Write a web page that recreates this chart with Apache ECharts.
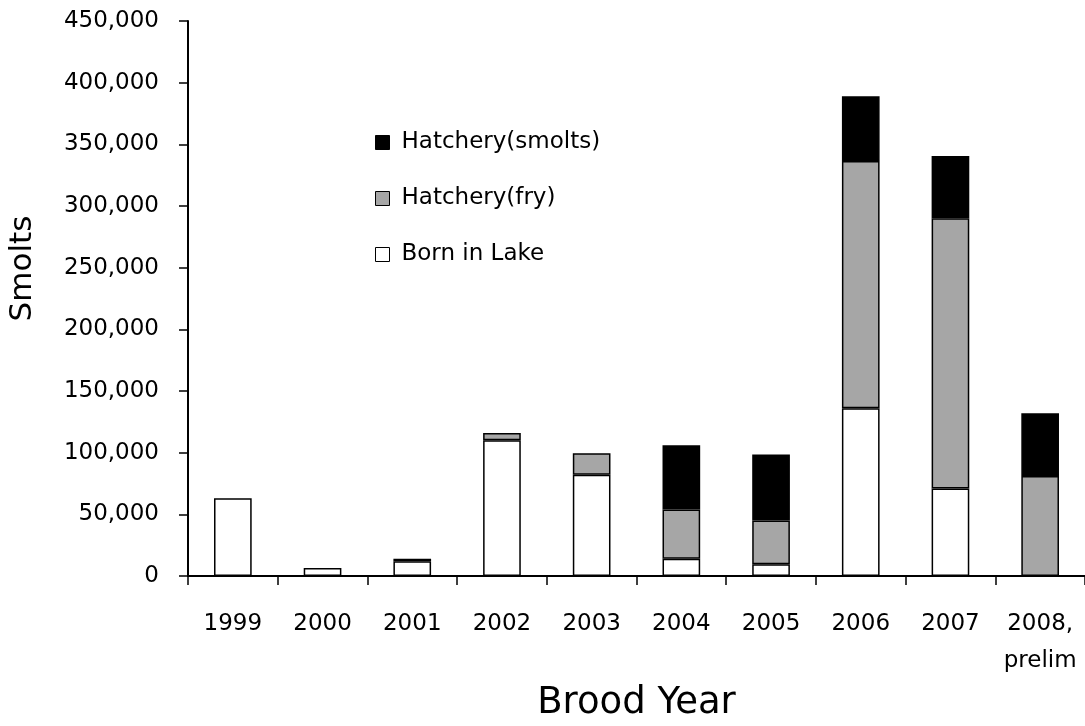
<!DOCTYPE html>
<html>
<head>
<meta charset="utf-8">
<script src="https://cdn.jsdelivr.net/npm/echarts@6/dist/echarts.min.js"></script>
<style>
html,body{margin:0;padding:0;background:#fff;}
#chart{width:1085px;height:726px;}
</style>
</head>
<body>
<div id="chart"></div>
<script>
var categories = ['1999','2000','2001','2002','2003','2004','2005','2006','2007','2008,\nprelim'];
var bornInLake = [63000, 6500, 12000, 110000, 82000, 14000, 9500, 136000, 71000, 0];
var hatcheryFry = [0, 0, 0, 6000, 17500, 40000, 35500, 200500, 219000, 81000];
var hatcherySmolts = [0, 0, 2000, 0, 0, 52000, 53500, 52500, 50500, 51000];
var seriesNames = ['Born in Lake', 'Hatchery(fry)', 'Hatchery(smolts)'];
var legendOrder = ['Hatchery(smolts)', 'Hatchery(fry)', 'Born in Lake'];
var yTicks = {min: 0, max: 450000, interval: 50000};

var FONT = 'DejaVu Sans';
function clean(arr){ return arr.map(function(v){ return v === 0 ? '-' : v; }); }
function fmt(v){ return v.toString().replace(/\B(?=(\d{3})+(?!\d))/g, ','); }

var colors = ['#ffffff', '#a6a6a6', '#000000'];
var dataSets = [bornInLake, hatcheryFry, hatcherySmolts];

var chart = echarts.init(document.getElementById('chart'), null, {renderer: 'canvas'});
chart.setOption({
  animation: false,
  backgroundColor: '#fff',
  textStyle: {fontFamily: FONT, color: '#000'},
  grid: {left: 188, right: 0, top: 21, bottom: 150, containLabel: false, outerBoundsMode: 'none'},
  legend: {
    orient: 'vertical',
    left: 375,
    top: 131,
    padding: 0,
    itemWidth: 14,
    itemHeight: 14,
    itemGap: 33,
    icon: 'rect',
    data: legendOrder,
    itemStyle: {borderColor: '#000', borderWidth: 1},
    textStyle: {fontFamily: FONT, fontSize: 23, color: '#000', padding: [0, 0, 0, 7]}
  },
  xAxis: {
    type: 'category',
    data: categories,
    name: 'Brood Year',
    nameLocation: 'middle',
    nameGap: 106,
    nameTextStyle: {fontFamily: FONT, fontSize: 37, color: '#000'},
    axisLine: {lineStyle: {color: '#000', width: 2}},
    axisTick: {show: true, alignWithLabel: false, length: 9, lineStyle: {color: '#000', width: 1.5}},
    axisLabel: {
      interval: 0,
      margin: 30,
      fontFamily: FONT,
      fontSize: 23,
      color: '#000',
      lineHeight: 37
    }
  },
  yAxis: {
    type: 'value',
    min: yTicks.min,
    max: yTicks.max,
    interval: yTicks.interval,
    name: 'Smolts',
    nameLocation: 'middle',
    nameRotate: 90,
    nameGap: 150,
    nameTextStyle: {fontFamily: FONT, fontSize: 31, color: '#000', padding: [0, 0, 0, 60]},
    splitLine: {show: false},
    axisLine: {show: true, lineStyle: {color: '#000', width: 2}},
    axisTick: {show: true, length: 9, lineStyle: {color: '#000', width: 1.5}},
    axisLabel: {margin: 29, fontFamily: FONT, fontSize: 23, color: '#000', formatter: function(v){ return fmt(v); }}
  },
  series: seriesNames.map(function(n, i){
    return {
      name: n,
      type: 'bar',
      stack: 'total',
      barWidth: '42%',
      data: clean(dataSets[i]),
      itemStyle: {color: colors[i], borderColor: '#000', borderWidth: 1.5}
    };
  })
});
</script>
</body>
</html>
